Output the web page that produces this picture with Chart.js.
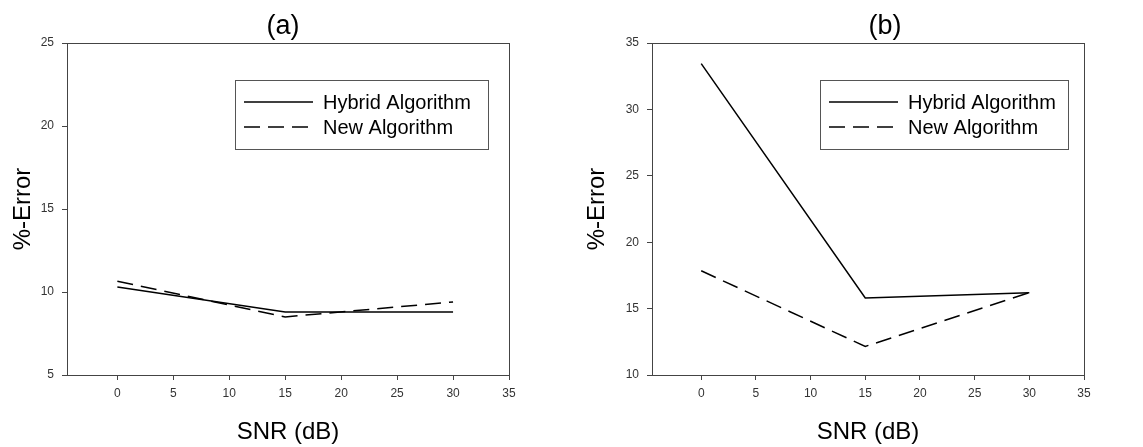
<!DOCTYPE html>
<html>
<head>
<meta charset="utf-8">
<title>%-Error vs SNR</title>
<script src="https://cdn.jsdelivr.net/npm/chart.js@4.4.1/dist/chart.umd.min.js"></script>
<style>
  body { margin: 0; background: #fff; }
  .panel { position: absolute; top: 0; }
</style>
</head>
<body>
<div class="panel" style="left:0px"><canvas id="chartA" width="570" height="447"></canvas></div>
<div class="panel" style="left:570px"><canvas id="chartB" width="573" height="447"></canvas></div>
<script>
// SNR values (dB) and error percentages
const snr = [0, 15, 30];
const hybridA = [10.3, 8.8, 8.8];
const newA = [10.65, 8.5, 9.4];
const hybridB = [33.45, 15.8, 16.2];
const newB = [17.85, 12.15, 16.2];

const xTicks = [0, 5, 10, 15, 20, 25, 30, 35];
const yTicksA = [5, 10, 15, 20, 25];
const yTicksB = [10, 15, 20, 25, 30, 35];
const seriesNames = ['Hybrid Algorithm', 'New Algorithm'];

const FONT = "'Liberation Sans', Arial, sans-serif";
const AXIS = '#444';

function pts(xs, ys){ return xs.map((x,i)=>({x:x, y:ys[i]})); }

// frame around plot, panel title, boxed legend
const framePlugin = {
  id: 'frame',
  afterDraw(chart, args, opts) {
    const c = chart.ctx, a = chart.chartArea;
    c.save();
    c.strokeStyle = AXIS; c.lineWidth = 1;
    c.strokeRect(a.left + 0.5, a.top + 0.5, a.right - a.left, a.bottom - a.top);

    c.fillStyle = '#000';
    c.font = '27px ' + FONT;
    c.textAlign = 'center'; c.textBaseline = 'middle';
    c.fillText(opts.title, opts.titleX, 27);

    const L = opts.legend;
    c.strokeStyle = '#555';
    c.strokeRect(L.x + 0.5, L.y + 0.5, L.w, L.h);
    c.font = '20px ' + FONT;
    c.textAlign = 'left';
    chart.data.datasets.forEach((ds, i) => {
      const y = L.y + 22 + i * 25;
      c.strokeStyle = '#000'; c.lineWidth = 1.5;
      c.setLineDash(ds.borderDash || []);
      c.beginPath(); c.moveTo(L.x + 9, y); c.lineTo(L.x + 78, y); c.stroke();
      c.setLineDash([]);
      c.fillText(ds.label, L.x + 88, y + 1);
    });
    c.restore();
  }
};

function makeChart(id, hybrid, neu, yMin, yMax, yTicks, leftW, rightPad, yTitlePad, title, titleX, legend) {
  return new Chart(document.getElementById(id), {
    type: 'line',
    data: {
      datasets: [
        { label: seriesNames[0], data: pts(snr, hybrid), borderColor: '#000', borderWidth: 1.5, pointRadius: 0, tension: 0 },
        { label: seriesNames[1], data: pts(snr, neu), borderColor: '#000', borderWidth: 1.5, borderDash: [16, 8], pointRadius: 0, tension: 0 }
      ]
    },
    options: {
      responsive: false,
      animation: false,
      layout: { padding: { top: 43, right: rightPad, bottom: 0, left: 0 } },
      plugins: {
        legend: { display: false },
        tooltip: { enabled: false },
        frame: { title: title, titleX: titleX, legend: legend }
      },
      scales: {
        x: {
          type: 'linear', min: -4.5, max: 35,
          afterBuildTicks: s => { s.ticks = xTicks.map(v => ({ value: v })); },
          afterFit: s => { s.height = 72; },
          grid: { drawOnChartArea: false, drawTicks: true, tickLength: 5, color: AXIS },
          border: { color: AXIS },
          ticks: { color: '#333', padding: 6, font: { family: FONT, size: 12 } },
          title: { display: true, text: 'SNR (dB)', color: '#000', padding: { top: 0, bottom: 0 }, font: { family: FONT, size: 24 } }
        },
        y: {
          min: yMin, max: yMax,
          afterBuildTicks: s => { s.ticks = yTicks.map(v => ({ value: v })); },
          afterFit: s => { s.width = leftW; },
          grid: { drawOnChartArea: false, drawTicks: true, tickLength: 5, color: AXIS },
          border: { color: AXIS },
          ticks: { color: '#333', padding: 8, font: { family: FONT, size: 12 } },
          title: { display: true, text: '%-Error', color: '#000', padding: { top: yTitlePad, bottom: 0 }, font: { family: FONT, size: 24 } }
        }
      }
    },
    plugins: [framePlugin]
  });
}

makeChart('chartA', hybridA, newA, 5, 25, yTicksA, 67, 61, 9, '(a)', 283,
  { x: 235, y: 80, w: 253, h: 69 });
makeChart('chartB', hybridB, newB, 10, 35, yTicksB, 82, 59, 13, '(b)', 315,
  { x: 250, y: 80, w: 248, h: 69 });
</script>
</body>
</html>
